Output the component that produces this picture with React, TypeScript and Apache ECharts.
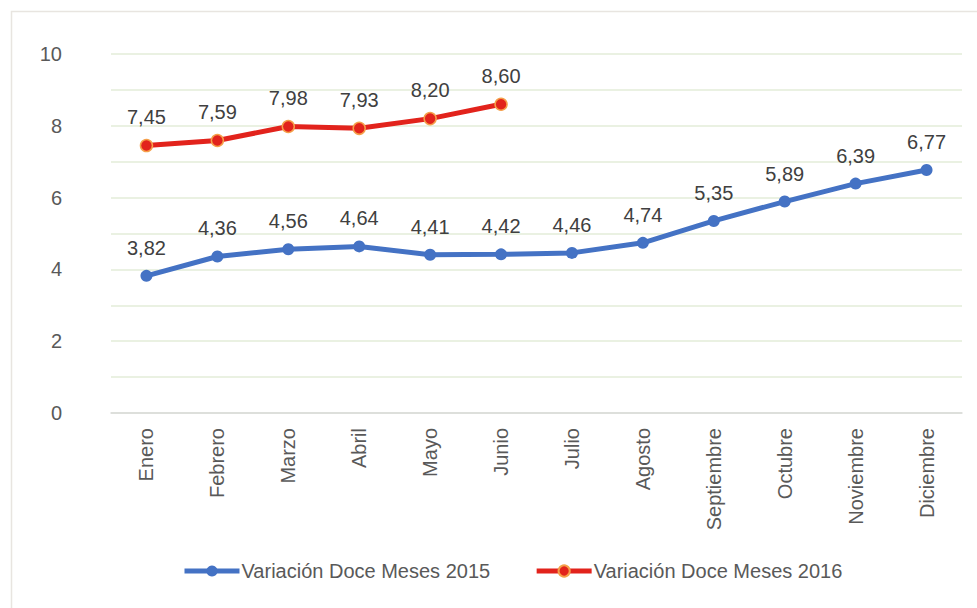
import React, { useEffect, useRef } from "react";
import * as echarts from "echarts";

const months = ["Enero", "Febrero", "Marzo", "Abril", "Mayo", "Junio", "Julio", "Agosto", "Septiembre", "Octubre", "Noviembre", "Diciembre"];
const values2015 = [3.82, 4.36, 4.56, 4.64, 4.41, 4.42, 4.46, 4.74, 5.35, 5.89, 6.39, 6.77];
const values2016 = [7.45, 7.59, 7.98, 7.93, 8.2, 8.6];
const seriesNames = ["Variación Doce Meses 2015", "Variación Doce Meses 2016"];

const FONT = "'Liberation Sans', Arial, sans-serif";
const fmt = (v: number) => v.toFixed(2).replace(".", ",");

export default function App() {
  const ref = useRef<HTMLDivElement>(null);
  useEffect(() => {
    if (!ref.current) return;
    const chart = echarts.init(ref.current, null, { renderer: "svg" });
    const labelCfg = {
      show: true,
      position: "top",
      distance: 12,
      fontFamily: FONT,
      fontSize: 20,
      color: "#404040",
      formatter: (p: any) => fmt(p.value),
    };
    chart.setOption({
      animation: false,
      backgroundColor: "#ffffff",
      textStyle: { fontFamily: FONT },
      graphic: [
        {
          type: "rect",
          shape: { x: 11.5, y: 11.5, width: 1000, height: 700 },
          style: { fill: "none", stroke: "#e8e5e0", lineWidth: 1.5 },
          silent: true,
        },
      ],
      grid: { left: 111, right: 15, top: 54, bottom: 195, containLabel: false },
      legend: {
        bottom: 22,
        left: 177,
        itemWidth: 55,
        itemHeight: 14,
        itemGap: 44,
        lineStyle: { width: 5 },
        textStyle: { fontFamily: FONT, fontSize: 20, color: "#595959", padding: [0, 0, 0, -3] },
        data: seriesNames,
      },
      xAxis: {
        type: "category",
        data: months,
        boundaryGap: true,
        axisLine: { show: true, lineStyle: { color: "#d9d9d9", width: 1.5 } },
        axisTick: { show: false },
        axisLabel: { rotate: 90, margin: 15, fontFamily: FONT, fontSize: 20, color: "#595959", interval: 0 },
      },
      yAxis: {
        type: "value",
        min: 0,
        max: 10,
        interval: 1,
        axisLine: { show: false },
        axisTick: { show: false },
        axisLabel: {
          margin: 49,
          fontFamily: FONT,
          fontSize: 20,
          color: "#595959",
          formatter: (v: number) => (v % 2 === 0 ? String(v) : ""),
        },
        splitLine: { lineStyle: { color: "#e3edd9", width: 1.5 } },
      },
      series: [
        {
          name: seriesNames[0],
          type: "line",
          data: values2015,
          symbol: "circle",
          symbolSize: 12,
          color: "#4472c4",
          lineStyle: { color: "#4472c4", width: 5 },
          itemStyle: { color: "#4472c4" },
          label: labelCfg,
          z: 3,
        },
        {
          name: seriesNames[1],
          type: "line",
          data: values2016,
          symbol: "circle",
          symbolSize: 12,
          color: "#e2231c",
          lineStyle: { color: "#e2231c", width: 5 },
          itemStyle: { color: "#e2231c", borderColor: "#f5a04a", borderWidth: 1.5 },
          label: labelCfg,
          z: 4,
        },
      ],
    });
    return () => chart.dispose();
  }, []);
  return <div ref={ref} style={{ position: "fixed", left: 0, top: 0, width: 977, height: 608 }} />;
}
